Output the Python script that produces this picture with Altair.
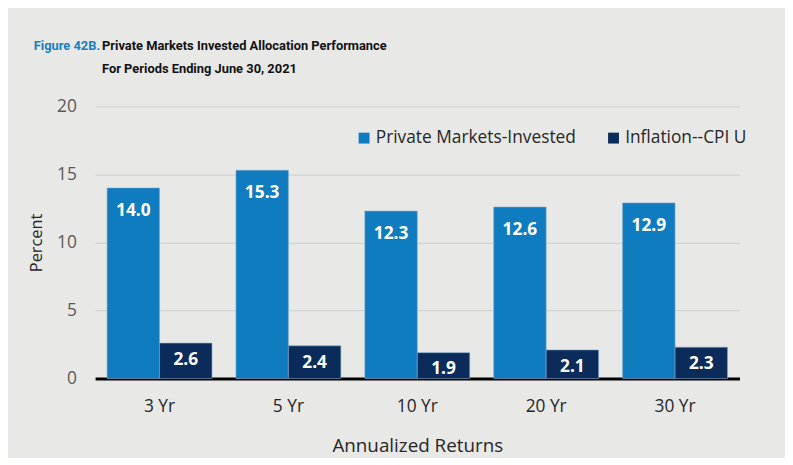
import altair as alt
import pandas as pd

periods = ["3 Yr", "5 Yr", "10 Yr", "20 Yr", "30 Yr"]
private_markets = [14.0, 15.3, 12.3, 12.6, 12.9]
inflation = [2.6, 2.4, 1.9, 2.1, 2.3]
series_names = ["Private Markets-Invested", "Inflation--CPI U"]
series_colors = ["#0F7CC0", "#0B2C5A"]
y_ticks = [0, 5, 10, 15, 20]

fig_label = "Figure 42B."
title_line1 = "Private Markets Invested Allocation Performance"
title_line2 = "For Periods Ending June 30, 2021"
x_title = "Annualized Returns"
y_title = "Percent"

rows = []
for p, a, b in zip(periods, private_markets, inflation):
    rows.append({"period": p, "series": series_names[0], "value": a})
    rows.append({"period": p, "series": series_names[1], "value": b})
df = pd.DataFrame(rows)

W, H = 651, 275
FONT = "Open Sans"
TFONT = "Roboto"

x_enc = alt.X(
    "period:N",
    sort=periods,
    scale=alt.Scale(paddingInner=0.186, paddingOuter=0.093),
    axis=alt.Axis(
        title=x_title,
        labelAngle=0,
        labelFont=FONT,
        labelFontSize=17.5,
        labelColor="#262626",
        labelPadding=19,
        ticks=False,
        tickSize=0,
        domain=True,
        domainColor="#000000",
        domainWidth=3,
        titleFont=FONT,
        titleFontSize=19,
        titleFontWeight="normal",
        titleColor="#262626",
        titlePadding=22,
    ),
)
xoff = alt.XOffset("series:N", sort=series_names, scale=alt.Scale(paddingInner=0, paddingOuter=0))
y_enc = alt.Y(
    "value:Q",
    scale=alt.Scale(domain=[0, 20], nice=False, zero=True),
    axis=alt.Axis(
        title=y_title,
        values=y_ticks,
        domain=False,
        ticks=False,
        tickSize=0,
        labelFont=FONT,
        labelFontSize=17.5,
        labelColor="#595959",
        labelPadding=19,
        grid=True,
        gridColor="#D4D4D4",
        gridWidth=1.2,
        titleFont=FONT,
        titleFontSize=16.5,
        titleFontWeight="normal",
        titleColor="#262626",
        titlePadding=12,
    ),
)

base = alt.Chart(df)

bars = base.mark_bar(stroke="#7FA9CF", strokeWidth=0.6).encode(
    x=x_enc,
    xOffset=xoff,
    y=y_enc,
    color=alt.Color(
        "series:N",
        sort=series_names,
        scale=alt.Scale(domain=series_names, range=series_colors),
        legend=alt.Legend(
            title=None,
            orient="none",
            direction="horizontal",
            legendX=263,
            legendY=23,
            padding=0,
            symbolType="square",
            symbolSize=121,
            symbolStrokeWidth=0,
            labelFont=FONT,
            labelFontSize=17.5,
            labelColor="#262626",
            labelOffset=3,
            labelLimit=400,
            columnPadding=29,
        ),
    ),
)

label_blue = base.transform_filter(alt.datum.series == series_names[0]).mark_text(
    font=FONT, fontSize=17.5, fontWeight="bold", color="white", baseline="middle", dy=23.5
).encode(x=alt.X("period:N", sort=periods), xOffset=xoff, y="value:Q", text=alt.Text("value:Q", format=".1f"))

label_dark = base.transform_filter(alt.datum.series == series_names[1]).mark_text(
    font=FONT, fontSize=17.5, fontWeight="bold", color="white", baseline="middle", dy=17
).encode(x=alt.X("period:N", sort=periods), xOffset=xoff, y="value:Q", text=alt.Text("value:Q", format=".1f"))

tdf = pd.DataFrame({"fig": [fig_label], "l1": [title_line1], "l2": [title_line2]})
tbase = alt.Chart(tdf)
t_fig = tbase.mark_text(font=TFONT, fontSize=13, fontWeight="bold", color="#1A7DC0", align="left", baseline="alphabetic").encode(
    x=alt.value(-62), y=alt.value(-57), text="fig:N")
t_l1 = tbase.mark_text(font=TFONT, fontSize=13, fontWeight="bold", color="#111111", align="left", baseline="alphabetic").encode(
    x=alt.value(7), y=alt.value(-57), text="l1:N")
t_l2 = tbase.mark_text(font=TFONT, fontSize=13, fontWeight="bold", color="#111111", align="left", baseline="alphabetic").encode(
    x=alt.value(7), y=alt.value(-34), text="l2:N")

chart = (
    alt.layer(bars, label_blue, label_dark, t_fig, t_l1, t_l2)
    .properties(
        width=W,
        height=H,
        autosize=alt.AutoSizeParams(type="none"),
        padding={"left": 88, "top": 97, "right": 46, "bottom": 78},
        background="#E8E8E7",
    )
    .configure_view(stroke=None)
)

chart.save("out.html", embed_options={"renderer": "svg", "actions": False})
